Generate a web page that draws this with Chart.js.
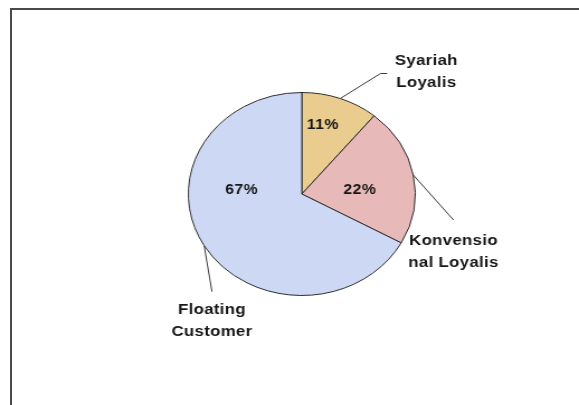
<!DOCTYPE html>
<html>
<head>
<meta charset="utf-8">
<script src="https://cdn.jsdelivr.net/npm/chart.js@4.4.0/dist/chart.umd.min.js"></script>
<style>
  html, body { margin: 0; padding: 0; background: #fff; }
  #frame {
    position: absolute; left: 10px; top: 8px; width: 580px; height: 400px;
    border-top: 2px solid #4a4a4a; border-left: 2px solid #4a4a4a;
  }
  /* the source picture is stretched sideways, so the whole chart is too */
  #wrap {
    position: absolute; left: 0; top: 0; width: 518px; height: 405px;
    transform: scaleX(1.1178); transform-origin: 0 0;
  }
</style>
</head>
<body>
<div id="frame"></div>
<div id="wrap"><canvas id="pieChart" width="518" height="405"></canvas></div>
<script>
// Données du graphique
const categories = ['Syariah Loyalis', 'Konvensional Loyalis', 'Floating Customer'];
const labelLines = [['Syariah', 'Loyalis'], ['Konvensio', 'nal Loyalis'], ['Floating', 'Customer']];
const values = [11, 22, 67];
const colors = ['#e9cc8e', '#e8b9b9', '#cdd8f4'];

// Étiquettes : pourcentages dans les parts, noms dehors avec un trait
const labelPlugin = {
  id: 'pieLabels',
  afterDatasetsDraw(chart, args, opts) {
    const ctx = chart.ctx;
    const arcs = chart.getDatasetMeta(0).data;
    const total = values.reduce((a, b) => a + b, 0);
    ctx.save();
    ctx.fillStyle = '#161616';
    ctx.textAlign = 'center';
    ctx.textBaseline = 'middle';
    arcs.forEach((arc, i) => {
      const r = arc.outerRadius;
      const mid = (arc.startAngle + arc.endAngle) / 2;
      // pourcentage
      const p = opts.pct[i];
      const a = mid + p.da;
      ctx.font = 'bold 14px "Liberation Sans", Arial, sans-serif';
      ctx.letterSpacing = '0.5px';
      ctx.fillText(Math.round(values[i] / total * 100) + '%',
        arc.x + Math.cos(a) * r * p.f, arc.y + Math.sin(a) * r * p.f);

      // trait de rappel
      const o = opts.out[i];
      const sx = arc.x + Math.cos(mid) * r, sy = arc.y + Math.sin(mid) * r;
      const ex = sx + o.lx, ey = sy + o.ly;
      ctx.strokeStyle = '#3a3a3a';
      ctx.lineWidth = 1;
      ctx.beginPath();
      ctx.moveTo(sx, sy);
      ctx.lineTo(ex, ey);
      if (o.hx) ctx.lineTo(ex + o.hx, ey);
      ctx.stroke();

      // nom
      ctx.font = 'bold 15px "Liberation Sans", Arial, sans-serif';
      ctx.letterSpacing = '0.3px';
      labelLines[i].forEach((t, k) => {
        ctx.fillText(t, ex + o.tx, ey + o.ty + k * 22);
      });
    });
    ctx.restore();
  }
};

const ctx = document.getElementById('pieChart').getContext('2d');
const pieChart = new Chart(ctx, {
  type: 'pie',
  data: {
    labels: categories,
    datasets: [{
      data: values,
      backgroundColor: colors,
      borderColor: '#2e2e2e',
      borderWidth: 1
    }]
  },
  options: {
    responsive: false,
    animation: false,
    layout: { padding: { left: 168, right: 146, top: 92, bottom: 109 } },
    plugins: {
      legend: { display: false },
      tooltip: { enabled: false },
      pieLabels: {
        pct: [
          { da: -0.078, f: 0.70 },
          { da: 0.112, f: 0.514 },
          { da: 0.608, f: 0.532 }
        ],
        out: [
          { lx: 36, ly: -25, hx: 6, tx: 41, ty: -13 },
          { lx: 36, ly: 45, hx: 0, tx: 0, ty: 21 },
          { lx: 7, ly: 46, hx: 0, tx: 0, ty: 18 }
        ]
      }
    }
  },
  plugins: [labelPlugin]
});
</script>
</body>
</html>
